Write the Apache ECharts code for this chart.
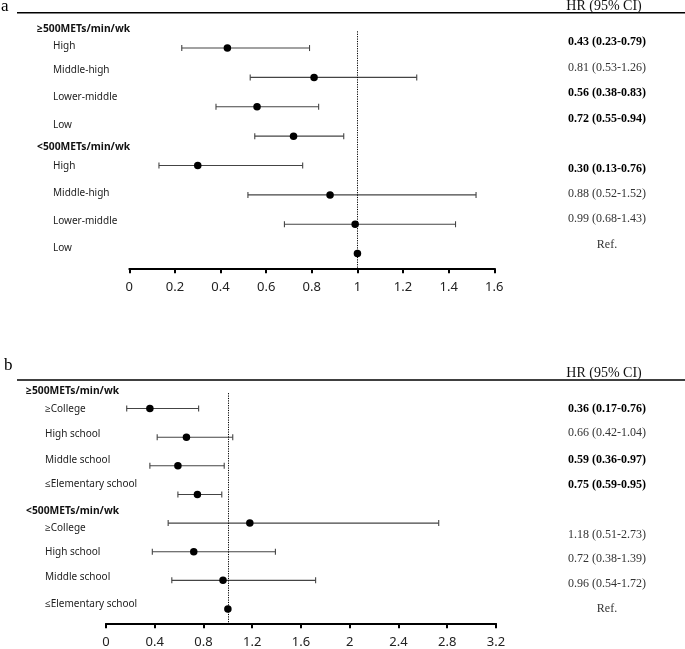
<!DOCTYPE html>
<html>
<head>
<meta charset="utf-8">
<script src="https://cdn.jsdelivr.net/npm/echarts@6/dist/echarts.min.js"></script>
<style>
html,body{margin:0;padding:0;background:#fff;}
#c{width:685px;height:649px;}
</style>
</head>
<body>
<div id="c"></div>
<script>
// ---------- DATA ----------
const groupsA = ['≥500METs/min/wk', '<500METs/min/wk'];
const rowsA = ['High', 'Middle-high', 'Lower-middle', 'Low', 'High', 'Middle-high', 'Lower-middle', 'Low'];
const hrA = [0.43, 0.81, 0.56, 0.72, 0.30, 0.88, 0.99, 1.00];
const loA = [0.23, 0.53, 0.38, 0.55, 0.13, 0.52, 0.68, null];
const hiA = [0.79, 1.26, 0.83, 0.94, 0.76, 1.52, 1.43, null];
const textA = ['0.43 (0.23-0.79)', '0.81 (0.53-1.26)', '0.56 (0.38-0.83)', '0.72 (0.55-0.94)',
               '0.30 (0.13-0.76)', '0.88 (0.52-1.52)', '0.99 (0.68-1.43)', 'Ref.'];
const boldA = [true, false, true, true, true, false, false, false];
const ticksA = [0, 0.2, 0.4, 0.6, 0.8, 1, 1.2, 1.4, 1.6];

const groupsB = ['≥500METs/min/wk', '<500METs/min/wk'];
const rowsB = ['≥College', 'High school', 'Middle school', '≤Elementary school',
               '≥College', 'High school', 'Middle school', '≤Elementary school'];
const hrB = [0.36, 0.66, 0.59, 0.75, 1.18, 0.72, 0.96, 1.00];
const loB = [0.17, 0.42, 0.36, 0.59, 0.51, 0.38, 0.54, null];
const hiB = [0.76, 1.04, 0.97, 0.95, 2.73, 1.39, 1.72, null];
const textB = ['0.36 (0.17-0.76)', '0.66 (0.42-1.04)', '0.59 (0.36-0.97)', '0.75 (0.59-0.95)',
               '1.18 (0.51-2.73)', '0.72 (0.38-1.39)', '0.96 (0.54-1.72)', 'Ref.'];
const boldB = [true, false, true, true, false, false, false, false];
const ticksB = [0, 0.4, 0.8, 1.2, 1.6, 2, 2.4, 2.8, 3.2];

const refValue = 1;
const headerText = 'HR (95% CI)';

// ---------- LAYOUT / STYLE ----------
const panels = [
  { letter: 'a', grid: { left: 129.3, top: 4, width: 365, height: 264.3 },
    ruleY: 12.7, letterTop: -2, letterX: 1, headerY: 6, labelX: 53, groupX: 37,
    groupShift: [-19, -18], labelShift: [-2, -7, -10, -11, 1, -2, -3, -5],
    textShift: [-6, -10, -14, -17, 3, -1, -5, -9], refTop: -0.57 },
  { letter: 'b', grid: { left: 106, top: 365.6, width: 390, height: 257.7 },
    ruleY: 380, letterTop: 357, letterX: 4, headerY: 373, labelX: 45, groupX: 26,
    groupShift: [-17, -12], labelShift: [1, -3, -6, -10, 5, 0, -3, -5],
    textShift: [0, -4, -6, -10, 12, 7, 3, 0], refTop: -0.54 }
];
const sets = [
  { groups: groupsA, rows: rowsA, hr: hrA, lo: loA, hi: hiA, text: textA, bold: boldA, ticks: ticksA },
  { groups: groupsB, rows: rowsB, hr: hrB, lo: loB, hi: hiB, text: textB, bold: boldB, ticks: ticksB }
];
const textColX = 607;
const sansFont = '"Noto Sans", "Open Sans", sans-serif';
const serifFont = '"Liberation Serif", "DejaVu Serif", serif';

const chart = echarts.init(document.getElementById('c'), null, { renderer: 'canvas' });

const grids = [], xAxes = [], yAxes = [], series = [];
sets.forEach((s, gi) => {
  const t = s.ticks;
  grids.push(Object.assign({ containLabel: false }, panels[gi].grid));
  xAxes.push({
    type: 'value', gridIndex: gi, position: 'bottom',
    min: t[0], max: t[t.length - 1], interval: t[1] - t[0],
    axisLine: { show: true, onZero: false, lineStyle: { color: '#000', width: 2 } },
    axisTick: { show: true, length: 5, lineStyle: { color: '#000', width: 2 } },
    splitLine: { show: false },
    axisLabel: { fontSize: 13, color: '#222', margin: 12, fontFamily: sansFont,
      formatter: v => { const m = t.find(x => Math.abs(x - v) < 1e-9); return m === undefined ? '' : String(m); } }
  });
  yAxes.push({ type: 'value', gridIndex: gi, min: -1.5, max: 7.5, inverse: true, show: false });

  const ci = [];
  s.rows.forEach((r, i) => { if (s.lo[i] != null) ci.push([i, s.lo[i], s.hi[i]]); });
  series.push({
    type: 'custom', xAxisIndex: gi, yAxisIndex: gi, silent: true, clip: false,
    encode: { x: [1, 2], y: 0 },
    data: ci,
    renderItem: (params, api) => {
      const row = api.value(0);
      const p1 = api.coord([api.value(1), row]);
      const p2 = api.coord([api.value(2), row]);
      const h = 3;
      const st = { stroke: '#444', lineWidth: 1.1 };
      return { type: 'group', children: [
        { type: 'line', shape: { x1: p1[0], y1: p1[1], x2: p2[0], y2: p2[1] }, style: st },
        { type: 'line', shape: { x1: p1[0], y1: p1[1] - h, x2: p1[0], y2: p1[1] + h }, style: st },
        { type: 'line', shape: { x1: p2[0], y1: p2[1] - h, x2: p2[0], y2: p2[1] + h }, style: st }
      ] };
    },
    z: 2
  });
  series.push({
    type: 'scatter', xAxisIndex: gi, yAxisIndex: gi, silent: true,
    symbol: 'circle', symbolSize: 7.5,
    itemStyle: { color: '#000', opacity: 1 },
    data: s.hr.map((v, i) => [v, i]),
    markLine: {
      silent: true, symbol: 'none', label: { show: false },
      lineStyle: { color: '#000', type: [1.2, 1.2], width: 1 },
      data: [[{ coord: [refValue, panels[gi].refTop] }, { coord: [refValue, 7.5] }]]
    },
    z: 3
  });
});

chart.setOption({
  animation: false,
  backgroundColor: '#fff',
  grid: grids, xAxis: xAxes, yAxis: yAxes, series: series
});

// text elements placed via the chart's own scales
const graphics = [];
sets.forEach((s, gi) => {
  const P = panels[gi];
  const px = i => chart.convertToPixel({ gridIndex: gi }, [0, i])[1];
  graphics.push({ type: 'text', left: P.letterX, top: P.letterTop,
    style: { text: P.letter, font: '17px ' + serifFont, fill: '#000' } });
  graphics.push({ type: 'line', shape: { x1: 17, y1: P.ruleY, x2: 685, y2: P.ruleY },
    style: { stroke: '#000', lineWidth: 1.6 } });
  graphics.push({ type: 'text', x: 604, y: P.headerY,
    style: { text: headerText, font: '14px ' + serifFont, fill: '#111', textAlign: 'center', textVerticalAlign: 'middle' } });
  s.groups.forEach((g, k) => {
    graphics.push({ type: 'text', x: P.groupX, y: px(k * 4) + P.groupShift[k],
      style: { text: g, font: 'bold 10.3px ' + sansFont, fill: '#111', textAlign: 'left', textVerticalAlign: 'middle' } });
  });
  s.rows.forEach((r, i) => {
    graphics.push({ type: 'text', x: P.labelX, y: px(i) + P.labelShift[i],
      style: { text: r, font: '10px ' + sansFont, fill: '#222', textAlign: 'left', textVerticalAlign: 'middle' } });
    graphics.push({ type: 'text', x: textColX, y: px(i) + P.textShift[i],
      style: { text: s.text[i], font: (s.bold[i] ? 'bold ' : '') + '12px ' + serifFont,
        fill: s.bold[i] ? '#000' : '#333', textAlign: 'center', textVerticalAlign: 'middle' } });
  });
});
chart.setOption({ graphic: graphics });
</script>
</body>
</html>
